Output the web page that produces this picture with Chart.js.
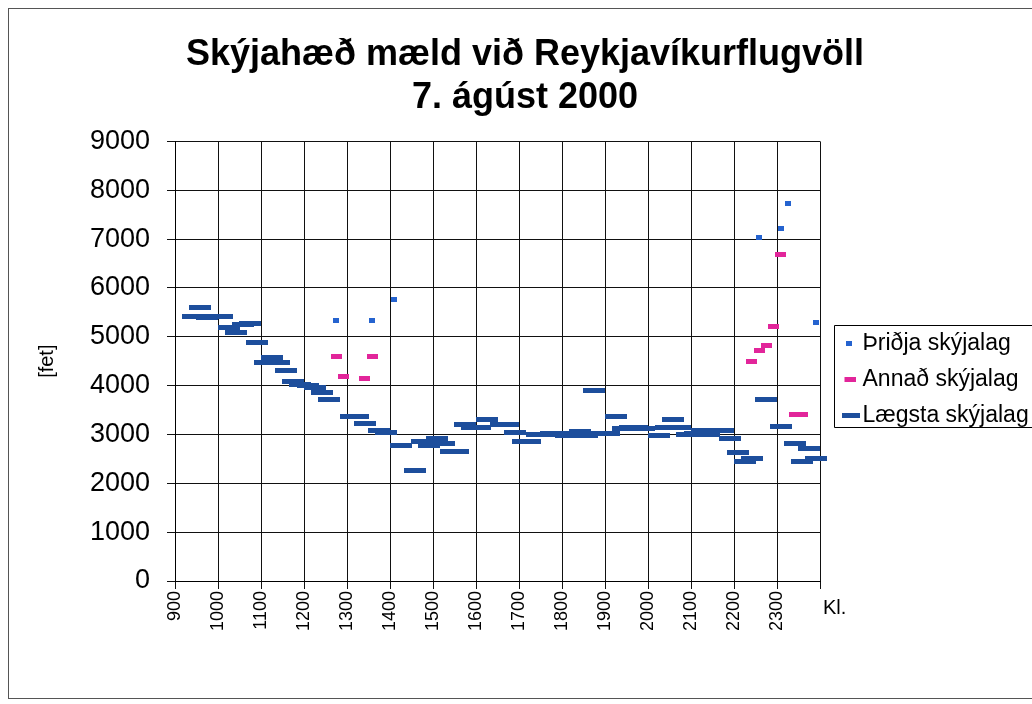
<!DOCTYPE html>
<html>
<head>
<meta charset="utf-8">
<script src="https://cdn.jsdelivr.net/npm/chart.js@4.4.1/dist/chart.umd.min.js"></script>
<style>
  html, body { margin: 0; padding: 0; background: #fff; overflow: hidden; }
</style>
</head>
<body>
<canvas id="chart" width="1032" height="704"></canvas>
<script>
// --- gögn lesin af myndinni (tími = upphaf 10 mín. bils) ---
const hourLabels = ['900', '1000', '1100', '1200', '1300', '1400', '1500', '1600', '1700', '1800', '1900', '2000', '2100', '2200', '2300'];

const lowTimes = ['9:20','9:30','9:40','9:50','10:00','10:10','10:20','10:30','10:40','10:50',
  '11:00','11:10','11:20','11:30','11:40','11:50','12:00','12:10','12:20','12:30',
  '13:00','13:10','13:20','13:40','13:50','14:10','14:30','14:40','14:50',
  '15:00','15:10','15:20','15:30','15:40','15:50','16:00','16:10','16:30','16:40','16:50',
  '17:00','17:10','17:20','17:30','17:40','17:50','18:00','18:10','18:20','18:30','18:40','18:50',
  '19:00','19:10','19:20','19:30','19:40','19:50','20:10','20:20','20:30','20:40','20:50',
  '21:00','21:10','21:20','21:30','21:40','21:50','22:00','22:10','22:20','22:40',
  '23:00','23:20','23:30','23:40','23:50'];
const lowValues = [5420,5600,5400,5420,5420,5190,5090,5250,5280,4890,
  4480,4580,4480,4300,4090,4030,4000,3970,3860,3720,
  3370,3370,3230,3090,3050,2780,2270,2860,2780,
  2920,2820,2660,2660,3210,3150,3150,3300,3210,3210,3050,
  2860,2860,2990,2990,3030,3030,2970,2970,3070,2970,3890,3030,
  3030,3370,3130,3150,3150,3130,2970,3150,3300,3150,3000,
  3030,3090,3000,3090,3090,2920,2640,2450,2510,3720,
  3170,2820,2450,2720,2510];

const secondTimes = ['12:40','12:50','13:20','13:30','22:20','22:30','22:40','22:50','23:00','23:20','23:30'];
const secondValues = [4600,4180,4150,4600,4500,4710,4830,5210,6690,3410,3410];

const thirdTimes = ['12:40','13:30','14:00','22:30','23:00','23:10','23:50'];
const thirdValues = [5330,5330,5770,7040,7220,7730,5300];

// mínútur frá miðnætti, punktur í miðju 10 mín. bilsins
function toPoints(times, values) {
  return times.map((t, i) => {
    const p = t.split(':');
    return { x: parseInt(p[0]) * 60 + parseInt(p[1]) + 5, y: values[i] };
  });
}

// strikmerki eins og í Excel (shift = auð spássía vinstra megin, fyrir skýringar)
function dashMark(w, h, color, shift) {
  const s = shift || 0;
  const c = document.createElement('canvas');
  c.width = w + s;
  c.height = h;
  const g = c.getContext('2d');
  g.fillStyle = color;
  g.fillRect(s, 0, w, h);
  return c;
}

const FONT = "'Liberation Sans', Arial, sans-serif";
const COLORS = ['#2563cf', '#e2259a', '#1d4e9c'];
const legendMarks = [dashMark(6, 5, COLORS[0], 14), dashMark(11, 5, COLORS[1], 16), dashMark(18, 5, COLORS[2], 18)];

const framePlugin = {
  id: 'frame',
  beforeLayout(chart) {
    // föst breidd á skýringarreitnum
    const lg = chart.legend;
    if (lg && !lg._fixed) {
      const fit = lg.fit.bind(lg);
      lg.fit = function () { fit(); this.width = 212; };
      lg._fixed = true;
    }
  },
  beforeDraw(chart) {
    const ctx = chart.ctx;
    ctx.save();
    ctx.fillStyle = '#fff';
    ctx.fillRect(0, 0, chart.width, chart.height);
    ctx.strokeStyle = '#555';
    ctx.lineWidth = 1;
    ctx.strokeRect(8.5, 8.5, 1030, 690);
    ctx.restore();
  },
  afterDraw(chart) {
    const ctx = chart.ctx;
    const area = chart.chartArea;
    ctx.save();
    // rammi um skýringar
    ctx.strokeStyle = '#000';
    ctx.lineWidth = 1;
    ctx.beginPath();
    ctx.moveTo(1040, 325.5);
    ctx.lineTo(834.5, 325.5);
    ctx.lineTo(834.5, 427.5);
    ctx.lineTo(1040, 427.5);
    ctx.stroke();
    // Kl. við x-ás
    ctx.fillStyle = '#000';
    ctx.font = '20px ' + FONT;
    ctx.textBaseline = 'middle';
    ctx.fillText('Kl.', area.right + 3, 608);
    ctx.restore();
  }
};

new Chart(document.getElementById('chart'), {
  type: 'scatter',
  data: {
    datasets: [
      {
        label: 'Þriðja skýjalag',
        data: toPoints(thirdTimes, thirdValues),
        pointStyle: dashMark(6, 5, COLORS[0]),
        order: 0,
        clip: false
      },
      {
        label: 'Annað skýjalag',
        data: toPoints(secondTimes, secondValues),
        pointStyle: dashMark(11, 5, COLORS[1]),
        order: 1,
        clip: false
      },
      {
        label: 'Lægsta skýjalag',
        data: toPoints(lowTimes, lowValues),
        pointStyle: dashMark(22, 5, COLORS[2]),
        order: 2,
        clip: false
      }
    ]
  },
  options: {
    responsive: false,
    animation: false,
    events: [],
    layout: { padding: { left: 18, right: 0, top: 0, bottom: 0 } },
    plugins: {
      title: {
        display: true,
        text: ['Skýjahæð mæld við Reykjavíkurflugvöll', '7. ágúst 2000'],
        color: '#000',
        font: { family: FONT, size: 36, weight: 'bold', lineHeight: 1.2 },
        padding: { top: 33, bottom: 22 }
      },
      legend: {
        display: true,
        position: 'right',
        fullSize: false,
        align: 'center',
        title: { display: true, text: '', font: { size: 12 }, padding: { top: 0, bottom: 21.6 } },
        labels: {
          usePointStyle: true,
          pointStyleWidth: 18,
          padding: 13,
          color: '#000',
          font: { family: FONT, size: 23 },
          generateLabels(chart) {
            const items = Chart.defaults.plugins.legend.labels.generateLabels(chart);
            items.forEach(it => { it.pointStyle = legendMarks[it.datasetIndex]; });
            return items;
          }
        }
      },
      tooltip: { enabled: false }
    },
    scales: {
      x: {
        type: 'linear',
        min: 540,
        max: 1440,
        afterFit(scale) { scale.height = 123; },
        ticks: {
          stepSize: 60,
          autoSkip: false,
          minRotation: 90,
          maxRotation: 90,
          padding: 2,
          color: '#000',
          font: { family: FONT, size: 18 },
          callback: (v) => hourLabels[(v - 540) / 60] || ''
        },
        grid: { color: '#111', lineWidth: 1, tickLength: 8 },
        border: { color: '#000', width: 1 }
      },
      y: {
        min: 0,
        max: 9000,
        afterFit(scale) { scale.width = 157; },
        ticks: {
          stepSize: 1000,
          padding: 17,
          color: '#000',
          font: { family: FONT, size: 27 },
          callback: (v) => String(v)
        },
        grid: { color: '#111', lineWidth: 1, tickLength: 8 },
        border: { color: '#000', width: 1 },
        title: {
          display: true,
          text: '[fet]',
          color: '#000',
          font: { family: FONT, size: 20 },
          padding: { top: 17, bottom: 0 }
        }
      }
    }
  },
  plugins: [framePlugin]
});
</script>
</body>
</html>
